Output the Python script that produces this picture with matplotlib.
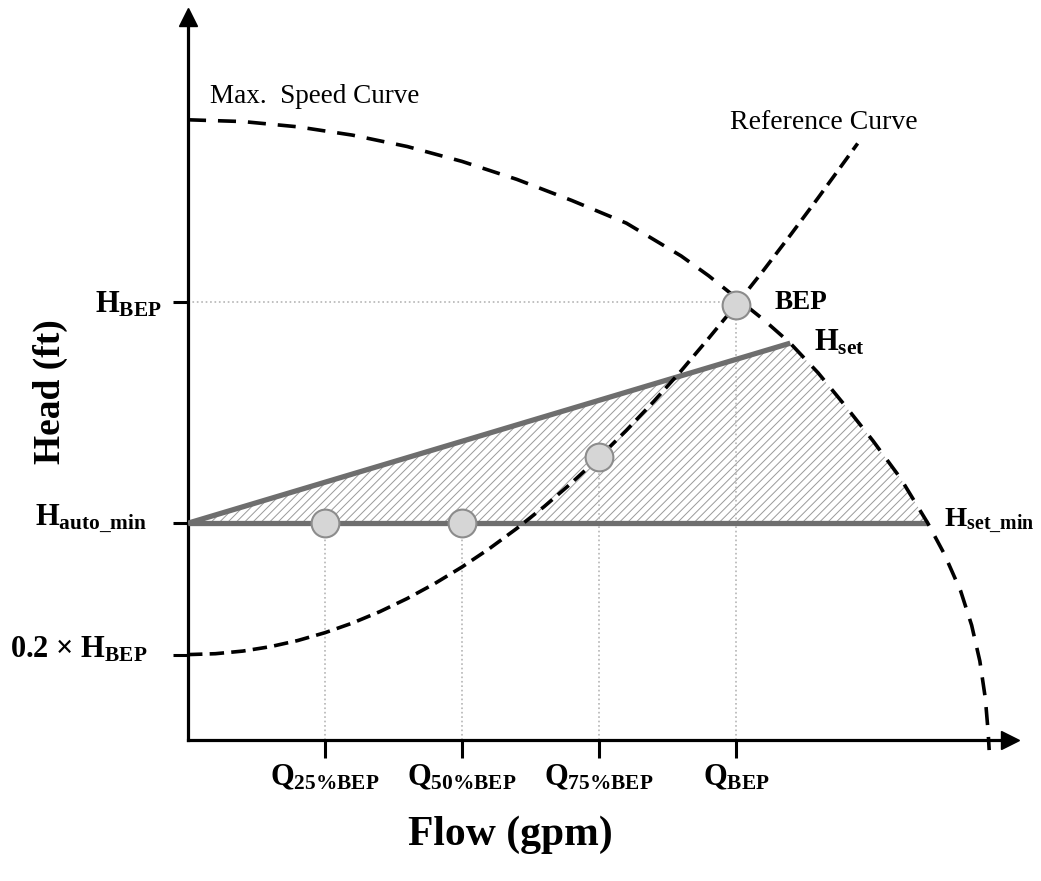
import matplotlib.pyplot as plt

plt.rcParams['font.family'] = ['Liberation Serif', 'DejaVu Serif']
plt.rcParams['mathtext.fontset'] = 'custom'
plt.rcParams['mathtext.rm'] = 'Liberation Serif:bold'
plt.rcParams['mathtext.bf'] = 'Liberation Serif:bold'
plt.rcParams['mathtext.it'] = 'Liberation Serif:bold:italic'
plt.rcParams['hatch.linewidth'] = 0.7

# flow in units of Q_BEP, head in units of H_BEP
max_speed_q = [0, 0.1, 0.2, 0.3, 0.4, 0.5, 0.6, 0.7, 0.8, 0.9, 0.95, 1.0,
               1.05, 1.099, 1.15, 1.2, 1.25, 1.3, 1.35, 1.38, 1.41, 1.43,
               1.445, 1.455, 1.46, 1.462]
max_speed_h = [1.416, 1.412, 1.400, 1.381, 1.355, 1.321, 1.280, 1.232, 1.180,
               1.105, 1.060, 1.010, 0.960, 0.906, 0.838, 0.762, 0.683, 0.598,
               0.495, 0.425, 0.340, 0.262, 0.180, 0.095, 0.020, -0.023]

ref_q = [0, 0.05, 0.1, 0.15, 0.2, 0.25, 0.3, 0.35, 0.4, 0.45, 0.5, 0.55, 0.6,
         0.65, 0.7, 0.75, 0.8, 0.85, 0.9, 0.95, 1.0, 1.05, 1.1, 1.15, 1.2,
         1.222]
ref_h = [0.195, 0.197, 0.203, 0.213, 0.227, 0.245, 0.267, 0.293, 0.323, 0.357,
         0.395, 0.437, 0.483, 0.533, 0.587, 0.645, 0.707, 0.773, 0.843, 0.917,
         0.993, 1.072, 1.154, 1.238, 1.324, 1.362]

h_auto_min = 0.495
h_set = (1.099, 0.906)
h_set_min_q = 1.350

points_q = [0.25, 0.5, 0.75, 1.0]
points_h = [0.495, 0.495, 0.646, 0.993]

q_ticks = [0.25, 0.5, 0.75, 1.0]
q_labels = [r'$\mathrm{Q_{25\%BEP}}$', r'$\mathrm{Q_{50\%BEP}}$',
            r'$\mathrm{Q_{75\%BEP}}$', r'$\mathrm{Q_{BEP}}$']
h_ticks = [1.0, h_auto_min, 0.195]

W, H = 1041, 881
fig = plt.figure(figsize=(W / 100, H / 100), dpi=100)
x0, y0 = 188, 740
sx, sy = 548, 438
xmax, ymax = 1.5, 1.65
ax = fig.add_axes([x0 / W, (H - y0) / H, xmax * sx / W, ymax * sy / H])
ax.set_xlim(0, xmax)
ax.set_ylim(0, ymax)
for s in ['top', 'right']:
    ax.spines[s].set_visible(False)
for s in ['left', 'bottom']:
    ax.spines[s].set_linewidth(2.3)
ax.plot(1, 0, '>k', ms=13, transform=ax.transAxes, clip_on=False)
ax.plot(0, 1, '^k', ms=13, transform=ax.transAxes, clip_on=False)

# hatched operating region
inside = [(q, h) for q, h in zip(max_speed_q, max_speed_h)
          if h_set[0] < q <= h_set_min_q]
poly_q = [0, h_set[0]] + [q for q, h in inside]
poly_h = [h_auto_min, h_set[1]] + [h for q, h in inside]
ax.fill(poly_q, poly_h, facecolor='white', edgecolor='#9a9a9a', lw=0,
        hatch='////', zorder=1)

# guide lines
ax.plot([0, 1.0], [1.0, 1.0], color='#b5b5b5', lw=1.2, ls=':', zorder=2)
for q, h in zip(points_q, points_h):
    ax.plot([q, q], [0, h], color='#b5b5b5', lw=1.2, ls=':', zorder=2)

# control lines
ax.plot([0, h_set_min_q], [h_auto_min, h_auto_min], color='#6e6e6e', lw=3.8,
        solid_capstyle='butt', zorder=3)
ax.plot([0, h_set[0]], [h_auto_min, h_set[1]], color='#6e6e6e', lw=3.8,
        solid_capstyle='butt', zorder=3)

# curves
ax.plot(max_speed_q, max_speed_h, color='black', lw=2.6, dashes=(5, 3.3),
        clip_on=False, zorder=4)
ax.plot(ref_q, ref_h, color='black', lw=2.6, dashes=(4, 2),
        clip_on=False, zorder=4)

ax.plot(points_q, points_h, 'o', ms=20, mfc='#d6d6d6', mec='#8c8c8c', mew=1.5,
        zorder=5)

ax.set_xticks(q_ticks)
ax.set_xticklabels(q_labels, fontsize=22)
ax.set_yticks(h_ticks)
ax.set_yticklabels([])
ax.tick_params(axis='x', direction='out', length=13, width=2.2, pad=4)
ax.tick_params(axis='y', direction='out', length=11, width=2.2)

# head labels
ax.text(-0.047, 0.977, r'$\mathrm{H_{BEP}}$', fontsize=22, ha='right',
        va='baseline')
ax.text(-0.074, 0.491, r'$\mathrm{H_{auto\_min}}$', fontsize=22, ha='right',
        va='baseline')
ax.text(-0.074, 0.189, '0.2 × ' + r'$\mathrm{H_{BEP}}$', fontsize=22,
        fontweight='bold', ha='right', va='baseline')

ax.text(1.071, 0.984, 'BEP', fontsize=19.5, fontweight='bold', va='baseline')
ax.text(1.142, 0.890, r'$\mathrm{H_{set}}$', fontsize=22, va='baseline')
ax.text(1.380, 0.486, r'$\mathrm{H_{set\_min}}$', fontsize=20.5,
        va='baseline', clip_on=False)
ax.text(0.04, 1.454, 'Max.  Speed Curve', fontsize=19.5, va='baseline')
ax.text(0.989, 1.395, 'Reference Curve', fontsize=20, va='baseline')

fig.text(50 / W, 1 - 392 / H, 'Head (ft)', fontsize=27, fontweight='bold',
         rotation=90, ha='center', va='center')
fig.text(510 / W, 1 - 835 / H, 'Flow (gpm)', fontsize=30, fontweight='bold',
         ha='center', va='center')

fig.savefig('out.png', dpi=100)
